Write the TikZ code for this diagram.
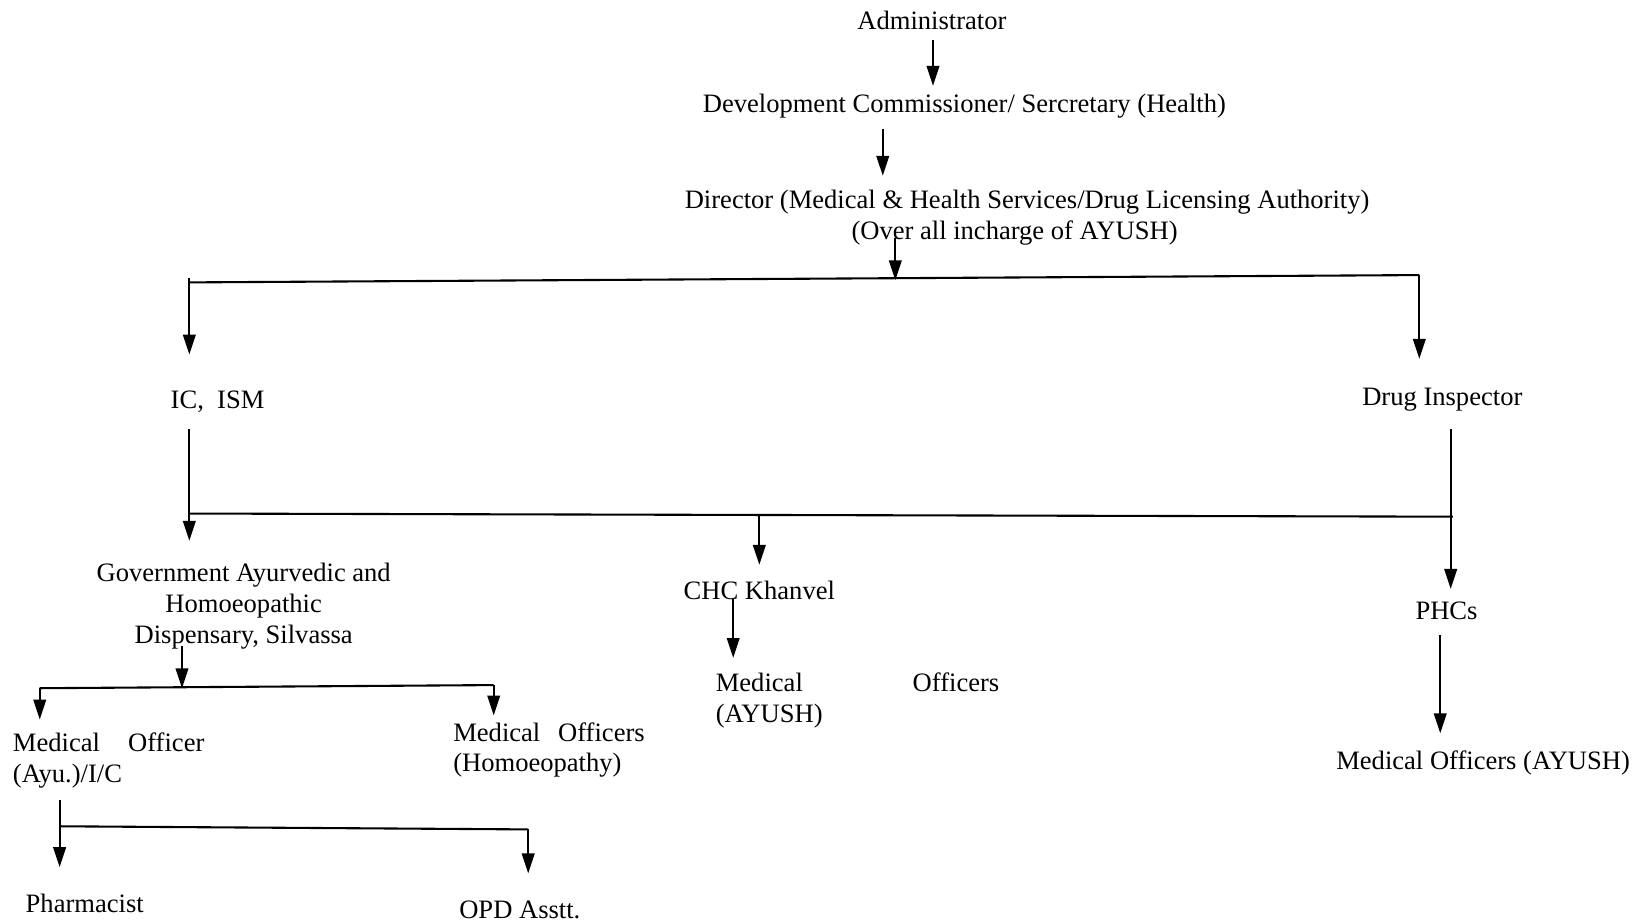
\documentclass[tikz,border=0pt]{standalone}
\usepackage{fontspec}
\setmainfont{Liberation Serif}
\usetikzlibrary{arrows.meta}
\begin{document}
\begin{tikzpicture}[x=0.5pt,y=-0.5pt,
  lbl/.style={inner sep=0pt, font=\fontsize{12.7}{14.7}\selectfont},
  arr/.style={line width=1pt, -{Triangle[width=6pt,length=9.5pt]}},
  ln/.style={line width=1pt}]
\useasboundingbox (0,0) rectangle (1568,882);
% nodes (multi-line nodes: base anchor = last line)
\node[lbl,anchor=base] (admin) at (891,28) {Administrator};
\node[lbl,anchor=base] (devcom) at (922,108) {Development Commissioner/ Sercretary (Health)};
\node[lbl,anchor=base,align=center] (director) at (982,229) {Director (Medical \& Health Services/Drug Licensing Authority)\\(Over all incharge of AYUSH)\hspace*{12pt}};
\node[lbl,anchor=base] (icism) at (208,391) {IC,\ \ ISM};
\node[lbl,anchor=base] (druginsp) at (1379,388) {Drug Inspector};
\node[lbl,anchor=base,align=center] (govdisp) at (233,615) {Government Ayurvedic and\\Homoeopathic\\Dispensary, Silvassa};
\node[lbl,anchor=base] (chc) at (726,573) {CHC Khanvel};
\node[lbl,anchor=base] (phcs) at (1383,592) {PHCs};
\node[lbl,anchor=base west,align=left] (moayu) at (12,748) {\makebox[91.5pt][s]{Medical Officer}\\(Ayu.)/I/C};
\node[lbl,anchor=base west,align=left] (mohom) at (433,738) {\makebox[91.5pt][s]{Medical Officers}\\(Homoeopathy)};
\node[lbl,anchor=base west,align=left] (mochc) at (684,691) {\makebox[135.5pt][s]{Medical Officers}\\(AYUSH)};
\node[lbl,anchor=base] (mophc) at (1418,736) {Medical Officers (AYUSH)};
\node[lbl,anchor=base] (pharm) at (81,872) {Pharmacist};
\node[lbl,anchor=base] (opd) at (497,878) {OPD Asstt.};
% junction coordinates
\coordinate (a1s) at (892,38);  \coordinate (a1e) at (892,82);
\coordinate (a2s) at (844,123); \coordinate (a2e) at (844,168);
\coordinate (a3s) at (856,228); \coordinate (a3e) at (856,268);
\coordinate (b1l) at (181,270); \coordinate (b1r) at (1357,263);
\coordinate (b1lt) at (181,266);
\coordinate (icE) at (181,339); \coordinate (diE) at (1357,343);
\coordinate (a4s) at (181,410); \coordinate (a4e) at (181,517);
\coordinate (b2l) at (181,491); \coordinate (b2r) at (1389,494);
\coordinate (a5s) at (726,492); \coordinate (a5e) at (726,540);
\coordinate (a6s) at (1387,410); \coordinate (a6e) at (1387,563);
\coordinate (a7s) at (174,618); \coordinate (a7e) at (174,658);
\coordinate (b3l) at (38,658);  \coordinate (b3r) at (472,655);
\coordinate (a8e) at (38,688);  \coordinate (a9e) at (472,684);
\coordinate (a10s) at (701,573); \coordinate (a10e) at (701,629);
\coordinate (a11s) at (1377,607); \coordinate (a11e) at (1377,701);
\coordinate (a12s) at (57,765); \coordinate (a12e) at (57,829);
\coordinate (b4l) at (57,790);  \coordinate (b4r) at (505,793);
\coordinate (a13e) at (505,835);
% connectors
\draw[arr] (a1s) -- (a1e);
\draw[arr] (a2s) -- (a2e);
\draw[arr] (a3s) -- (a3e);
\draw[ln] (b1l) -- (b1r);
\draw[arr] (b1lt) -- (icE);
\draw[arr] (b1r) -- (diE);
\draw[arr] (a4s) -- (a4e);
\draw[ln] (b2l) -- (b2r);
\draw[arr] (a5s) -- (a5e);
\draw[arr] (a6s) -- (a6e);
\draw[arr] (a7s) -- (a7e);
\draw[ln] (b3l) -- (b3r);
\draw[arr] (b3l) -- (a8e);
\draw[arr] (b3r) -- (a9e);
\draw[arr] (a10s) -- (a10e);
\draw[arr] (a11s) -- (a11e);
\draw[arr] (a12s) -- (a12e);
\draw[ln] (b4l) -- (b4r);
\draw[arr] (b4r) -- (a13e);
\end{tikzpicture}
\end{document}
